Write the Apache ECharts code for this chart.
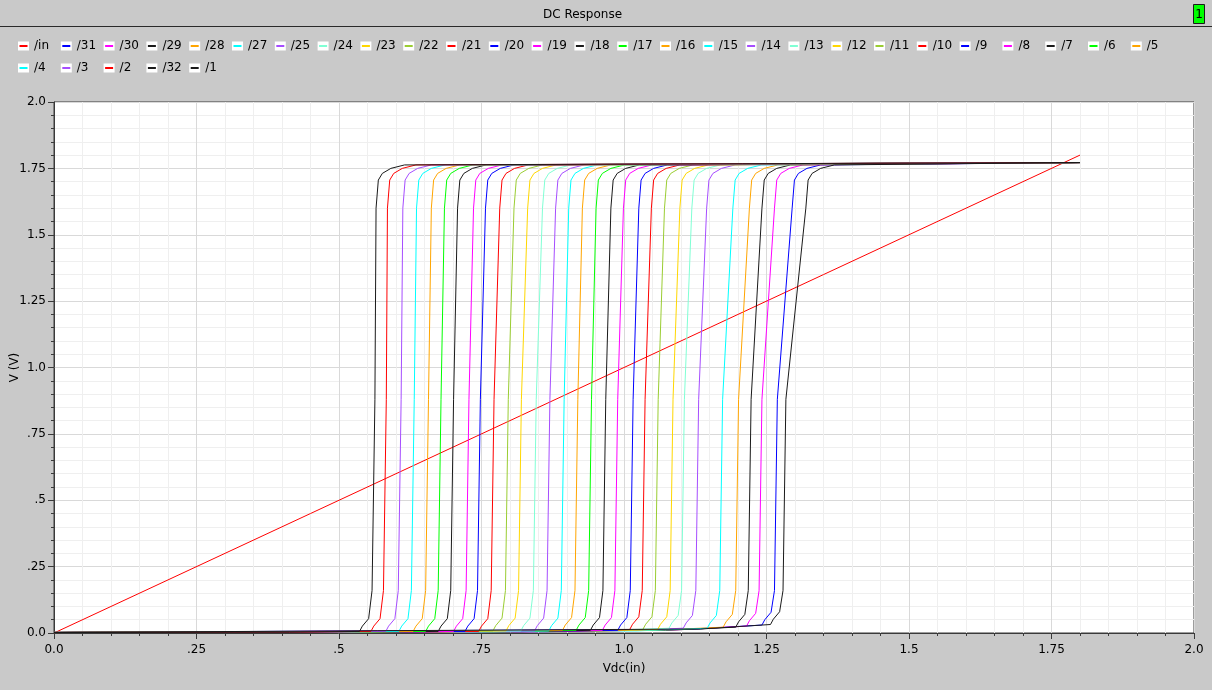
<!DOCTYPE html>
<html>
<head>
<meta charset="utf-8">
<title>DC Response</title>
<script src="https://cdn.jsdelivr.net/npm/echarts@6/dist/echarts.min.js"></script>
<style>
  html, body { margin: 0; padding: 0; background: #c9c9c9; }
  #chart { width: 1212px; height: 690px; }
</style>
</head>
<body>
<div id="chart"></div>
<script>
// tick labels as printed on both axes
const tickLabels = ["0.0", ".25", ".5", ".75", "1.0", "1.25", "1.5", "1.75", "2.0"];

// input sweep: /in follows Vdc(in)
const cIn = [[0, 0], [1.8, 1.8]];

// outputs, [Vdc(in), V]
const c1 = [[0,.002],[.413,.003],[.536,.006],[.541,.026],[.552,.054],[.558,.16],[.563,.88],[.565,1.6],[.569,1.706],[.576,1.731],[.591,1.75],[.615,1.763],[1.8,1.772]];
const c2 = [[0,.002],[.433,.003],[.556,.006],[.561,.026],[.572,.054],[.578,.16],[.583,.88],[.585,1.6],[.589,1.706],[.596,1.731],[.611,1.75],[.635,1.763],[1.8,1.772]];
const c3 = [[0,.002],[.459,.003],[.582,.006],[.587,.026],[.598,.054],[.604,.16],[.609,.88],[.612,1.6],[.616,1.706],[.623,1.731],[.638,1.75],[.662,1.763],[1.8,1.772]];
const c4 = [[0,.002],[.482,.003],[.605,.006],[.61,.026],[.621,.054],[.627,.16],[.632,.88],[.636,1.6],[.64,1.706],[.647,1.731],[.662,1.75],[.686,1.763],[1.8,1.772]];
const c5 = [[0,.002],[.507,.003],[.63,.006],[.635,.026],[.646,.054],[.652,.16],[.657,.88],[.662,1.6],[.666,1.706],[.673,1.731],[.688,1.75],[.712,1.763],[1.8,1.772]];
const c6 = [[0,.002],[.529,.003],[.652,.006],[.657,.026],[.668,.054],[.674,.16],[.679,.88],[.685,1.6],[.689,1.706],[.696,1.731],[.711,1.75],[.735,1.763],[1.8,1.772]];
const c7 = [[0,.002],[.551,.003],[.674,.006],[.679,.026],[.69,.054],[.696,.16],[.701,.88],[.708,1.6],[.712,1.706],[.719,1.731],[.734,1.75],[.758,1.763],[1.8,1.772]];
const c8 = [[0,.002],[.578,.003],[.701,.006],[.706,.026],[.717,.054],[.723,.16],[.728,.88],[.736,1.6],[.74,1.706],[.747,1.731],[.762,1.75],[.786,1.763],[1.8,1.772]];
const c9 = [[0,.002],[.598,.003],[.721,.006],[.726,.026],[.737,.054],[.743,.16],[.748,.88],[.757,1.6],[.761,1.706],[.768,1.731],[.783,1.75],[.807,1.763],[1.8,1.772]];
const c10 = [[0,.002],[.622,.003],[.745,.006],[.75,.026],[.761,.054],[.767,.16],[.772,.88],[.782,1.6],[.786,1.706],[.793,1.731],[.808,1.75],[.832,1.763],[1.8,1.772]];
const c11 = [[0,.002],[.647,.004],[.77,.008],[.775,.028],[.786,.056],[.792,.16],[.797,.88],[.807,1.6],[.811,1.706],[.818,1.731],[.833,1.75],[.857,1.763],[1.8,1.772]];
const c12 = [[0,.002],[.67,.004],[.793,.008],[.798,.028],[.809,.056],[.815,.16],[.82,.88],[.831,1.6],[.835,1.706],[.842,1.731],[.857,1.75],[.881,1.763],[1.8,1.772]];
const c13 = [[0,.002],[.696,.004],[.819,.008],[.824,.028],[.835,.056],[.841,.16],[.846,.88],[.857,1.6],[.861,1.706],[.868,1.731],[.883,1.75],[.907,1.763],[1.8,1.772]];
const c14 = [[0,.002],[.72,.004],[.843,.008],[.848,.028],[.859,.056],[.865,.16],[.87,.88],[.88,1.6],[.884,1.706],[.891,1.731],[.906,1.75],[.93,1.763],[1.8,1.772]];
const c15 = [[0,.002],[.745,.004],[.868,.008],[.873,.028],[.884,.056],[.89,.16],[.895,.88],[.903,1.6],[.907,1.706],[.914,1.731],[.929,1.75],[.953,1.763],[1.8,1.772]];
const c16 = [[0,.002],[.769,.005],[.892,.01],[.897,.03],[.908,.058],[.914,.16],[.919,.88],[.927,1.6],[.931,1.706],[.938,1.731],[.953,1.75],[.977,1.763],[1.8,1.772]];
const c17 = [[0,.002],[.793,.005],[.916,.01],[.921,.03],[.932,.058],[.938,.16],[.943,.88],[.951,1.6],[.955,1.706],[.962,1.731],[.977,1.75],[1.001,1.763],[1.8,1.772]];
const c18 = [[0,.002],[.818,.005],[.941,.01],[.946,.03],[.957,.058],[.963,.16],[.968,.88],[.977,1.6],[.981,1.706],[.988,1.731],[1.003,1.75],[1.027,1.763],[1.8,1.772]];
const c19 = [[0,.002],[.839,.005],[.962,.01],[.967,.03],[.978,.058],[.984,.16],[.989,.88],[.999,1.6],[1.003,1.706],[1.01,1.731],[1.025,1.75],[1.049,1.763],[1.8,1.772]];
const c20 = [[0,.002],[.866,.005],[.989,.01],[.994,.03],[1.005,.058],[1.011,.16],[1.016,.88],[1.026,1.6],[1.03,1.706],[1.037,1.731],[1.052,1.75],[1.076,1.763],[1.8,1.772]];
const c21 = [[0,.002],[.887,.006],[1.01,.013],[1.015,.033],[1.026,.061],[1.032,.16],[1.037,.88],[1.048,1.6],[1.052,1.706],[1.059,1.731],[1.074,1.75],[1.098,1.763],[1.8,1.772]];
const c22 = [[0,.002],[.91,.006],[1.033,.013],[1.038,.033],[1.049,.061],[1.055,.16],[1.06,.88],[1.071,1.6],[1.075,1.706],[1.082,1.731],[1.097,1.75],[1.121,1.763],[1.8,1.772]];
const c23 = [[0,.002],[.936,.006],[1.059,.013],[1.064,.033],[1.075,.061],[1.081,.16],[1.086,.88],[1.098,1.6],[1.102,1.706],[1.109,1.731],[1.124,1.75],[1.148,1.763],[1.8,1.772]];
const c24 = [[0,.002],[.956,.008],[1.079,.018],[1.084,.038],[1.095,.066],[1.101,.16],[1.106,.88],[1.119,1.6],[1.123,1.706],[1.13,1.731],[1.145,1.75],[1.169,1.763],[1.8,1.772]];
const c25 = [[0,.002],[.981,.008],[1.104,.018],[1.109,.038],[1.12,.066],[1.126,.16],[1.131,.88],[1.145,1.6],[1.149,1.706],[1.156,1.731],[1.171,1.75],[1.195,1.763],[1.8,1.772]];
const c27 = [[0,.002],[1.023,.008],[1.146,.018],[1.151,.038],[1.162,.066],[1.168,.16],[1.173,.88],[1.191,1.6],[1.195,1.706],[1.202,1.731],[1.217,1.75],[1.241,1.763],[1.8,1.772]];
const c28 = [[0,.002],[1.051,.01],[1.174,.022],[1.179,.042],[1.19,.07],[1.196,.16],[1.201,.88],[1.22,1.6],[1.224,1.706],[1.231,1.731],[1.246,1.75],[1.27,1.763],[1.8,1.772]];
const c29 = [[0,.002],[1.073,.01],[1.196,.022],[1.201,.042],[1.212,.07],[1.218,.16],[1.223,.88],[1.242,1.6],[1.246,1.706],[1.253,1.731],[1.268,1.75],[1.292,1.763],[1.8,1.772]];
const c30 = [[0,.002],[1.092,.012],[1.215,.026],[1.22,.046],[1.231,.074],[1.237,.16],[1.242,.88],[1.264,1.6],[1.268,1.706],[1.275,1.731],[1.29,1.75],[1.314,1.763],[1.8,1.772]];
const c31 = [[0,.002],[1.119,.014],[1.242,.03],[1.247,.05],[1.258,.078],[1.264,.16],[1.269,.88],[1.295,1.6],[1.299,1.706],[1.306,1.731],[1.321,1.75],[1.345,1.763],[1.8,1.772]];
const c32 = [[0,.002],[1.134,.015],[1.257,.032],[1.262,.052],[1.273,.08],[1.279,.16],[1.284,.88],[1.319,1.6],[1.323,1.706],[1.33,1.731],[1.345,1.75],[1.369,1.763],[1.8,1.772]];

// legend / draw order
const names = ["/in","/31","/30","/29","/28","/27","/25","/24","/23","/22","/21","/20","/19","/18","/17","/16","/15","/14","/13","/12","/11","/10","/9","/8","/7","/6","/5","/4","/3","/2","/32","/1"];
const traces = [cIn,c31,c30,c29,c28,c27,c25,c24,c23,c22,c21,c20,c19,c18,c17,c16,c15,c14,c13,c12,c11,c10,c9,c8,c7,c6,c5,c4,c3,c2,c32,c1];

const RED = "#ff0000", BLUE = "#0000ff", MAG = "#ff00ff", BLK = "#1a1a1a", ORG = "#ffa500",
      CYN = "#00ffff", PUR = "#a64dff", AQU = "#80ffd4", GLD = "#ffd700", YGR = "#9acd32", GRN = "#00ff00";
const colors = [RED,BLUE,MAG,BLK,ORG,CYN,PUR,AQU,GLD,YGR,RED,BLUE,MAG,BLK,GRN,ORG,CYN,PUR,AQU,GLD,YGR,RED,BLUE,MAG,BLK,GRN,ORG,CYN,PUR,RED,BLK,BLK];

const FONT = "'DejaVu Sans', sans-serif";

const chart = echarts.init(document.getElementById("chart"), null, { renderer: "canvas" });

const series = names.map((name, i) => ({
    name,
    type: "line",
    data: traces[i],
    symbol: "none",
    silent: true,
    lineStyle: { width: 1, color: colors[i] },
    itemStyle: { color: colors[i] },
}));

// fixed-width legend cell: transparent background makes the width count in layout
const cell = { width: 26.8, height: 22, fontSize: 12, fontFamily: FONT, backgroundColor: "rgba(0,0,0,0)" };

// two stacked legends give the white box + coloured dash
const legendBase = {
    data: names,
    left: 18,
    top: 35,
    width: 1175,
    itemGap: 0,
    itemWidth: 11,
    itemHeight: 9,
    selectedMode: false,
    padding: 0,
    formatter: (n) => "{a|" + n + "}",
};

const axisCommon = {
    type: "value",
    min: 0,
    max: 2,
    interval: 0.25,
    axisLine: { show: true, lineStyle: { color: "#3a3a3a", width: 1 } },
    axisTick: { show: true, length: 6, lineStyle: { color: "#3a3a3a" } },
    minorTick: { show: true, splitNumber: 5, length: 3, lineStyle: { color: "#3a3a3a" } },
    splitLine: { show: true, lineStyle: { color: "#d9d9d9", width: 1 } },
    minorSplitLine: { show: true, lineStyle: { color: "#efefef", width: 1 } },
    axisLabel: {
        color: "#000",
        fontSize: 12,
        fontFamily: FONT,
        formatter: (v) => tickLabels[Math.round(v / 0.25)],
    },
    nameLocation: "middle",
    nameMoveOverlap: false,
    nameTextStyle: { color: "#000", fontSize: 12, fontFamily: FONT },
};

chart.setOption({
    backgroundColor: "#c9c9c9",
    animation: false,
    title: {
        text: "DC Response",
        left: 538,
        top: 4,
        textStyle: { fontSize: 12, fontWeight: "normal", color: "#000", fontFamily: FONT },
    },
    legend: [
        Object.assign({}, legendBase, {
            icon: "rect",
            itemStyle: { color: "#ffffff", borderWidth: 0 },
            textStyle: { rich: { a: Object.assign({}, cell, { color: "rgba(0,0,0,0)" }) } },
        }),
        Object.assign({}, legendBase, {
            icon: "path://M0,0M11,9M1.5,3.5H9.5V5.5H1.5Z",
            itemStyle: { borderWidth: 0 },
            textStyle: { rich: { a: Object.assign({}, cell, { color: "#000" }) } },
        }),
    ],
    grid: {
        left: 54,
        right: 18,
        top: 102,
        bottom: 57,
        outerBoundsMode: "none",
        containLabel: false,
        show: true,
        backgroundColor: "#ffffff",
        borderColor: "#3a3a3a",
        borderWidth: 1,
    },
    xAxis: Object.assign({}, axisCommon, {
        name: "Vdc(in)",
        nameGap: 30,
        axisLabel: Object.assign({}, axisCommon.axisLabel, { margin: 11 }),
    }),
    yAxis: Object.assign({}, axisCommon, {
        name: "V (V)",
        nameGap: 33,
        nameRotate: 90,
        axisLabel: Object.assign({}, axisCommon.axisLabel, { margin: 8 }),
    }),
    graphic: [
        // rule under the title bar
        { type: "rect", left: 0, top: 26, shape: { width: 1212, height: 1 }, style: { fill: "#2a2a2a" }, silent: true },
        // green subwindow marker
        {
            type: "group",
            right: 7,
            top: 4,
            children: [
                { type: "rect", shape: { x: 0, y: 0, width: 11, height: 19 }, style: { fill: "#00ff00", stroke: "#1a1a1a", lineWidth: 1 } },
                { type: "text", x: 5.5, y: 10, style: { text: "1", fill: "#000", font: "12px " + FONT, align: "center", verticalAlign: "middle" } },
            ],
        },
    ],
    series,
});
</script>
</body>
</html>
